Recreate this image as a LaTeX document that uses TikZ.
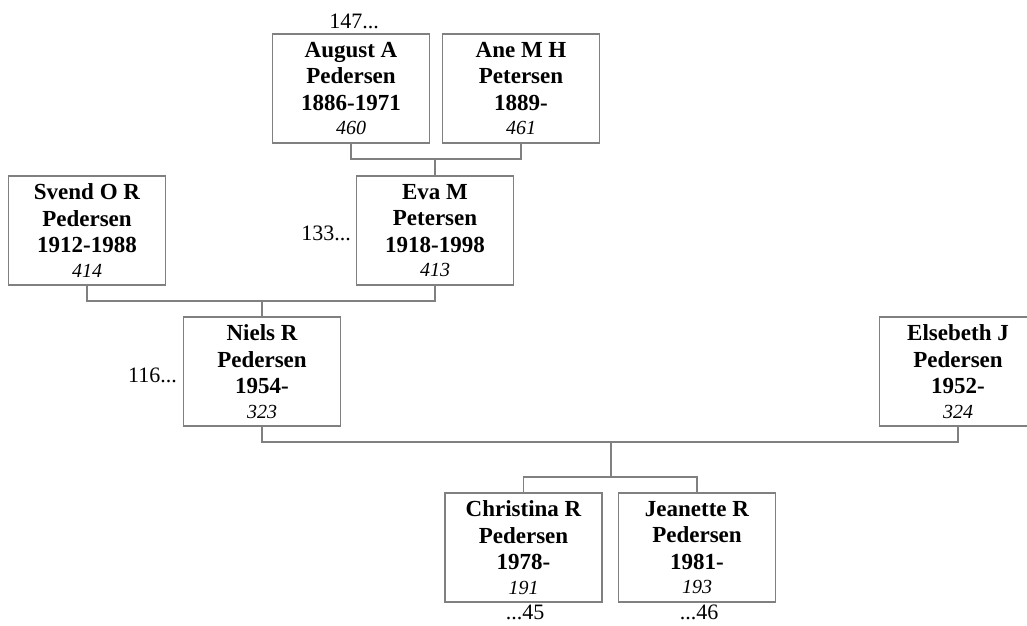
\documentclass[tikz,border=0pt]{standalone}
\usepackage{fontspec}
\setmainfont{Liberation Serif}
\definecolor{linegray}{RGB}{128,128,128}
\newcommand{\idnum}[1]{\\[-2pt]{\fontsize{20}{24}\selectfont\mdseries\itshape #1}}
\begin{document}
\begin{tikzpicture}[x=1pt,y=-1pt,
  person/.style={draw=linegray, line width=1.1pt, minimum width=157pt, minimum height=109pt,
    inner sep=0pt, align=center, font=\fontsize{23}{26.5}\selectfont\bfseries},
  conn/.style={draw=linegray, line width=1.1pt},
  lbl/.style={font=\fontsize{22}{26}\selectfont, inner sep=0pt, anchor=base}]
\clip (0,0) rectangle (1027,625);
\useasboundingbox (0,0) rectangle (1027,625);
% persons
\node[person] (aug) at (351,88.5) {August A\\Pedersen\\1886-1971\idnum{460}};
\node[person] (ane) at (521,88.5) {Ane M H\\Petersen\\1889-\idnum{461}};
\node[person] (svend) at (87,230.5) {Svend O R\\Pedersen\\1912-1988\idnum{414}};
\node[person] (eva) at (435,230.5) {Eva M\\Petersen\\1918-1998\idnum{413}};
\node[person] (niels) at (262,371.5) {Niels R\\Pedersen\\1954-\idnum{323}};
\node[person] (els) at (958,371.5) {Elsebeth J\\Pedersen\\1952-\idnum{324}};
\node[person] (chr) at (523.5,547.5) {Christina R\\Pedersen\\1978-\idnum{191}};
\node[person] (jea) at (697,547.5) {Jeanette R\\Pedersen\\1981-\idnum{193}};
% labels
\node[lbl] (l147) at (354,28) {147...};
\node[lbl, anchor=base east] (l133) at (351,240) {133...};
\node[lbl, anchor=base east] (l116) at (177,382) {116...};
\node[lbl] (l45) at (525,619) {...45};
\node[lbl] (l46) at (699,619) {...46};
% connectors
\coordinate (j1) at (eva.north |- 0,159);
\draw[conn] (aug.south) |- (j1) -| (ane.south);
\draw[conn] (j1) -- (eva.north);
\coordinate (j2) at (niels.north |- 0,301);
\draw[conn] (svend.south) |- (j2) -| (eva.south);
\draw[conn] (j2) -- (niels.north);
\coordinate (j3) at (611,442);
\coordinate (j4) at (611,477);
\draw[conn] (niels.south) |- (j3) -| (els.south);
\draw[conn] (j3) -- (j4);
\draw[conn] (chr.north) |- (j4) -| (jea.north);
\end{tikzpicture}
\end{document}
